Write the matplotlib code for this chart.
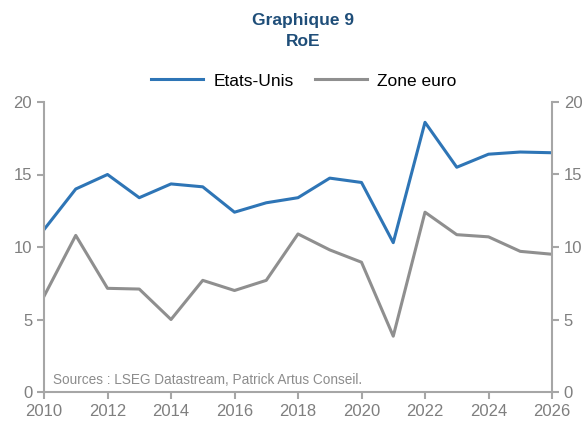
import matplotlib.pyplot as plt
import numpy as np

years = list(range(2010, 2027))
etats_unis = [11.2, 14.0, 15.0, 13.4, 14.35, 14.15, 12.4, 13.05, 13.4,
              14.75, 14.45, 10.3, 18.6, 15.5, 16.4, 16.55, 16.5]
zone_euro = [6.6, 10.8, 7.15, 7.1, 5.0, 7.7, 7.0, 7.7, 10.9,
             9.8, 8.95, 3.85, 12.4, 10.85, 10.7, 9.7, 9.5]
x_ticks = list(range(2010, 2027, 2))
y_ticks = [0, 5, 10, 15, 20]

plt.rcParams['font.family'] = ['Liberation Sans', 'DejaVu Sans']

axis_grey = '#A6A6A6'
label_grey = '#7F7F7F'

fig = plt.figure(figsize=(5.85, 4.21), dpi=100)
ax = fig.add_axes([44 / 585, 1 - 392 / 421, (552 - 44) / 585, (392 - 102) / 421])

ax.plot(years, etats_unis, color='#2E75B6', lw=2.2, label='Etats-Unis')
ax.plot(years, zone_euro, color='#8F8F8F', lw=2.2, label='Zone euro')

ax.set_xlim(2010, 2026)
ax.set_ylim(0, 20)
ax.set_xticks(x_ticks)
ax.set_yticks(y_ticks)

ax2 = ax.twinx()
ax2.set_ylim(0, 20)
ax2.set_yticks(y_ticks)

for a in (ax, ax2):
    a.spines['top'].set_visible(False)
    for side in ('left', 'right', 'bottom'):
        a.spines[side].set_color(axis_grey)
        a.spines[side].set_linewidth(1.5)
    a.tick_params(colors=axis_grey, labelcolor=label_grey, labelsize=12,
                  length=5, width=1.5)
ax.spines['right'].set_visible(False)
ax2.spines['left'].set_visible(False)
ax2.spines['bottom'].set_visible(False)

ax.text(0.017, 0.018, 'Sources : LSEG Datastream, Patrick Artus Conseil.',
        transform=ax.transAxes, fontsize=9.8, color='#8C8C8C', va='bottom')

fig.text(303 / 585, 1 - 20 / 421, 'Graphique 9', ha='center', va='center',
         fontsize=12.5, fontweight='bold', color='#1F4E79')
fig.text(303 / 585, 1 - 42 / 421, 'RoE', ha='center', va='center',
         fontsize=12.5, fontweight='bold', color='#1F4E79')

fig.legend(loc='center', bbox_to_anchor=(304 / 585, 1 - 81 / 421), ncol=2,
           frameon=False, fontsize=12.5, handlelength=3.0, columnspacing=1.2,
           handletextpad=0.6)

fig.savefig('out.png', dpi=100, facecolor='white')
